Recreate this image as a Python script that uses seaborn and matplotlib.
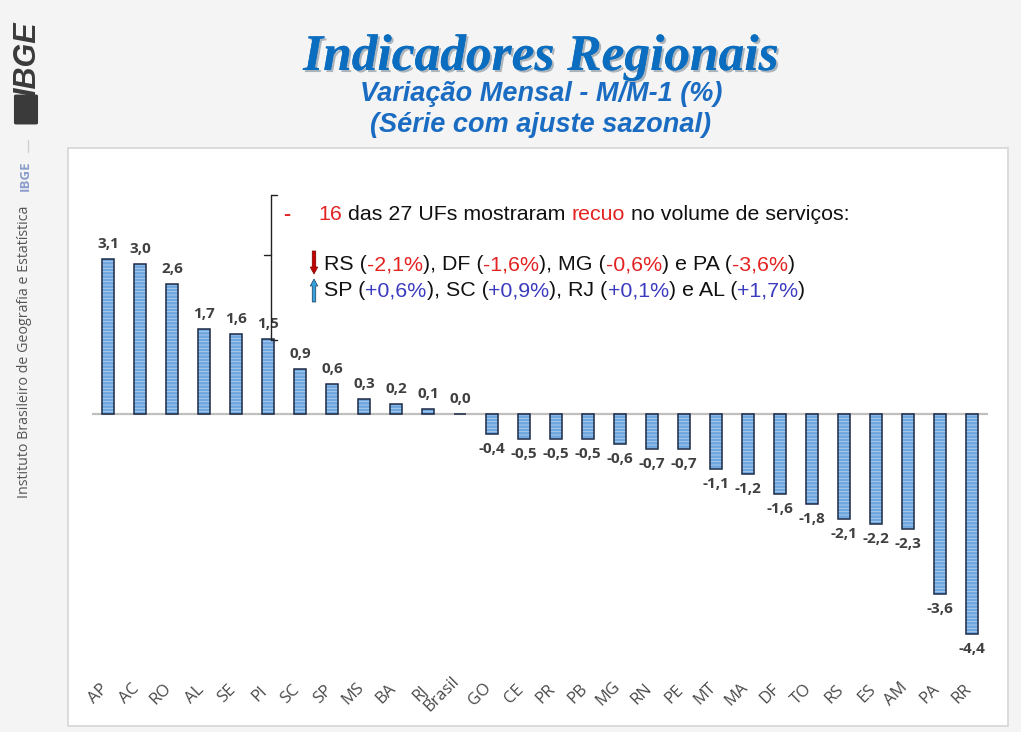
import matplotlib
matplotlib.use("Agg")
import matplotlib.pyplot as plt
import matplotlib.patheffects as pe
from matplotlib.patches import Rectangle, FancyArrow, FancyBboxPatch
from matplotlib.transforms import ScaledTranslation
import seaborn as sns

# dados
ufs = ["AP", "AC", "RO", "AL", "SE", "PI", "SC", "SP", "MS", "BA", "RJ", "Brasil",
       "GO", "CE", "PR", "PB", "MG", "RN", "PE", "MT", "MA", "DF", "TO", "RS",
       "ES", "AM", "PA", "RR"]
valores = [3.1, 3.0, 2.6, 1.7, 1.6, 1.5, 0.9, 0.6, 0.3, 0.2, 0.1, 0.0,
           -0.4, -0.5, -0.5, -0.5, -0.6, -0.7, -0.7, -1.1, -1.2, -1.6, -1.8, -2.1,
           -2.2, -2.3, -3.6, -4.4]
rotulos = [f"{v:.1f}".replace(".", ",") for v in valores]

titulo = "Indicadores Regionais"
subtitulo = ["Variação Mensal - M/M-1 (%)", "(Série com ajuste sazonal)"]

VERM = "#e32222"
AZUL = "#3b3bbf"
PRETO = "#111111"
linha1 = [("16", VERM), (" das 27 UFs mostraram ", PRETO), ("recuo", VERM),
          (" no volume de serviços:", PRETO)]
linha2 = [("RS (", PRETO), ("-2,1%", VERM), ("), DF (", PRETO), ("-1,6%", VERM),
          ("), MG (", PRETO), ("-0,6%", VERM), (") e PA (", PRETO), ("-3,6%", VERM),
          (")", PRETO)]
linha3 = [("SP (", PRETO), ("+0,6%", AZUL), ("), SC (", PRETO), ("+0,9%", AZUL),
          ("), RJ (", PRETO), ("+0,1%", AZUL), (") e AL (", PRETO), ("+1,7%", AZUL),
          (")", PRETO)]

W, H = 1021, 732
sns.set_theme(style="white")
plt.rcParams["hatch.linewidth"] = 0.6

fig = plt.figure(figsize=(W / 100, H / 100), dpi=100, facecolor="#f4f4f4")


def px(x, y):
    return x / W, 1 - y / H


# painel branco
x0, y0 = px(68, 726)
x1, y1 = px(1008, 148)
fig.add_artist(Rectangle((x0, y0), x1 - x0, y1 - y0, transform=fig.transFigure,
                         facecolor="white", edgecolor="#d6d6d6", lw=1.2, zorder=-5))

# eixo: zero em y=414px, 50 px por unidade
ax_l, ax_b = px(92, 694)
ax_r, ax_t = px(988, 160)
ax = fig.add_axes([ax_l, ax_b, ax_r - ax_l, ax_t - ax_b])
ax.set_facecolor("none")

ax.axhline(0, color="#bfbfbf", lw=1.6, zorder=1)
sns.barplot(x=ufs, y=valores, order=ufs, ax=ax, width=0.39, color="#6ea6de",
            saturation=1, hatch="-----", edgecolor="#b3d0ef", linewidth=0, zorder=2)
sns.barplot(x=ufs, y=valores, order=ufs, ax=ax, width=0.39, color="#1c2a45",
            fill=False, linewidth=1.1, zorder=3)
ax.bar_label(ax.containers[0], labels=rotulos, padding=6, fontsize=11,
             fontweight="bold", color="#404040", family="Open Sans")

ax.set_xlim(-0.5, len(ufs) - 0.5)
ax.set_ylim(-5.6, 5.08)
ax.set_yticks([])
ax.set_ylabel("")
sns.despine(ax=ax, left=True, bottom=True)
ax.tick_params(axis="x", length=0, pad=0)
ax.set_xticks(range(len(ufs)))
ax.set_xticklabels(ufs, rotation=45, ha="right", va="center", fontsize=12,
                   color="#4a4a4a", family="Open Sans")
for lb in ax.get_xticklabels():
    lb.set_transform(lb.get_transform() + ScaledTranslation(0.03, 0, fig.dpi_scale_trans))

# titulos
t = fig.text(*px(541, 70), titulo, ha="center", va="baseline", fontsize=37,
             family="Liberation Serif", fontweight="bold", style="italic", color="#0b6dc0")
t.set_path_effects([pe.withSimplePatchShadow(offset=(1.5, -1.5), alpha=0.3), pe.Normal()])
for yy, s in zip([101, 132], subtitulo):
    fig.text(*px(541, yy), s, ha="center", va="baseline", fontsize=19.5,
             family="Liberation Sans", fontweight="bold", style="italic", color="#1a6cc2")

# barra lateral
fig.text(*px(27, 59), "IBGE", rotation=90, ha="center", va="center", fontsize=22,
         family="Liberation Sans", fontweight="bold", style="italic", color="#3a3a3a")
bx, by = px(16, 123)
fig.add_artist(FancyBboxPatch((bx, by), 20 / W, 27 / H, transform=fig.transFigure,
                              boxstyle="round,pad=0.002", facecolor="#3a3a3a", edgecolor="none"))
fig.add_artist(plt.Line2D([28 / W, 28 / W], [1 - 140 / H, 1 - 152 / H],
                          transform=fig.transFigure, color="#d0d0d0", lw=1))
fig.text(*px(25, 176), "IBGE", rotation=90, ha="center", va="center", fontsize=9.5,
         family="Open Sans", fontweight="bold", color="#8a9ccb")
fig.text(*px(25, 498), "Instituto Brasileiro de Geografia e Estatística", rotation=90,
         ha="center", va="bottom", fontsize=10.3, family="Open Sans", color="#555555")

# anotacao
fig.canvas.draw()
rend = fig.canvas.get_renderer()
FS = 15.4


def largura(s):
    tt = fig.text(0, 0, s, fontsize=FS, family="Liberation Sans")
    w = tt.get_window_extent(rend).width
    tt.remove()
    return w


def texto_colorido(x, y, partes):
    prefixo = ""
    wbar = largura("|")
    for s, c in partes:
        lead = len(s) - len(s.lstrip())
        off = 0 if not (prefixo + s[:lead]) else largura(prefixo + s[:lead] + "|") - wbar
        fig.text(*px(x + off, y), s.strip(), fontsize=FS, family="Liberation Sans",
                 color=c, ha="left", va="center")
        prefixo += s


fig.text(*px(283, 214), "-", fontsize=FS, family="Liberation Sans", color=VERM,
         ha="left", va="center", fontweight="bold")
texto_colorido(318, 214, linha1)
texto_colorido(324, 265, linha2)
texto_colorido(324, 291, linha3)

# chave
chave = [((277, 195), (271, 195)), ((271, 195), (271, 340)), ((271, 340), (277, 340)),
         ((271, 255), (264, 255))]
for (xa, ya), (xb, yb) in chave:
    fig.add_artist(plt.Line2D([xa / W, xb / W], [1 - ya / H, 1 - yb / H],
                              transform=fig.transFigure, color="#222222", lw=1.0))

# setas (em polegadas a partir do canto inferior esquerdo)
fig.add_artist(FancyArrow(3.14, (H - 251) / 100, 0, -0.23,
                          width=0.035, head_width=0.075, head_length=0.07,
                          length_includes_head=True, transform=fig.dpi_scale_trans,
                          facecolor="#c00000", edgecolor="#7a0000", lw=0.5))
fig.add_artist(FancyArrow(3.14, (H - 302) / 100, 0, 0.23,
                          width=0.035, head_width=0.075, head_length=0.07,
                          length_includes_head=True, transform=fig.dpi_scale_trans,
                          facecolor="#35a0dc", edgecolor="#1c3b5a", lw=0.5))

fig.savefig("out.png", dpi=100, facecolor=fig.get_facecolor())
